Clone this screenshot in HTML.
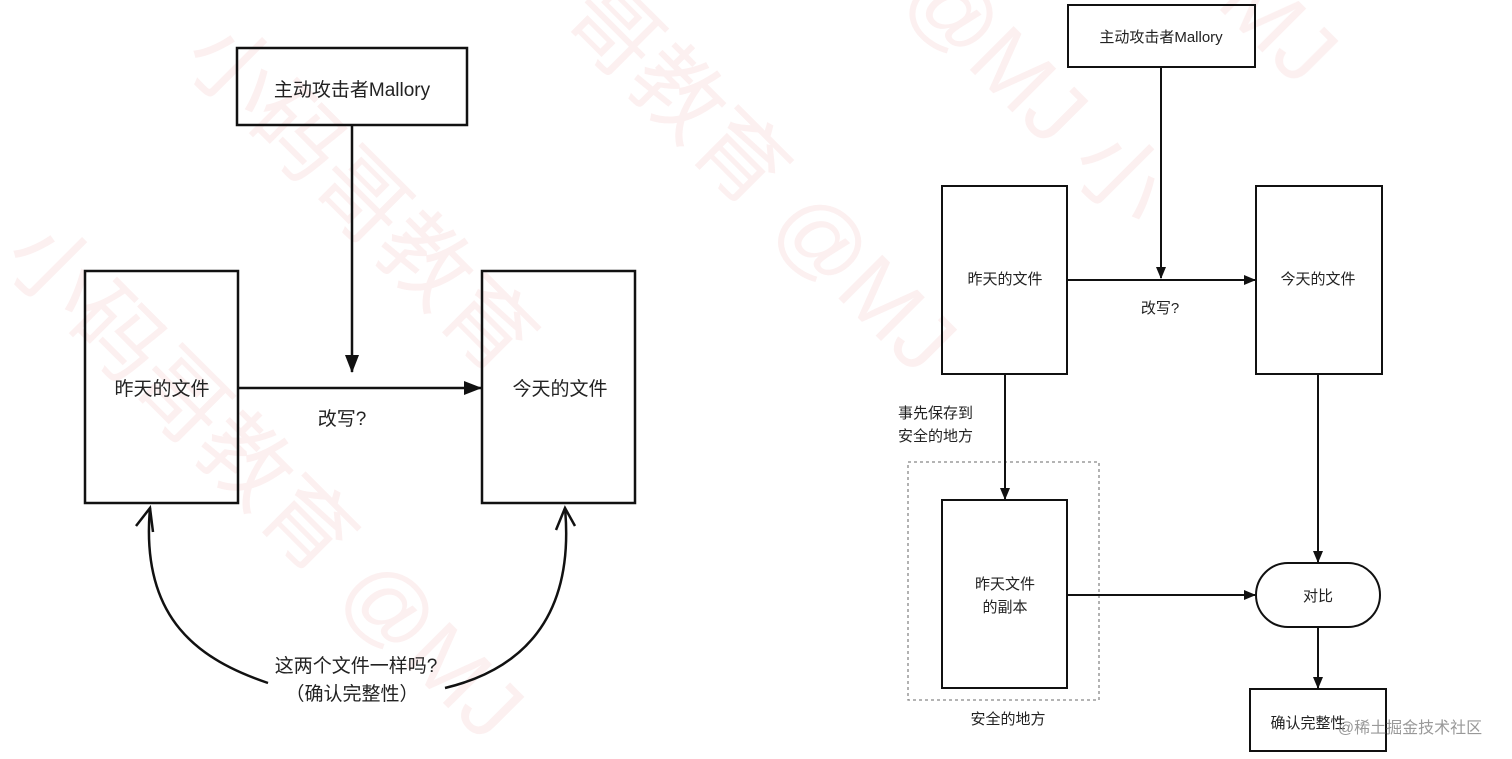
<!DOCTYPE html>
<html><head><meta charset="utf-8"><style>
html,body{margin:0;padding:0;background:#fff;}
svg{display:block;font-family:"Liberation Sans","Noto Sans CJK SC",sans-serif;}
</style></head><body>
<svg width="1512" height="759" viewBox="0 0 1512 759" xmlns="http://www.w3.org/2000/svg">
<defs>
<marker id="a" markerWidth="12" markerHeight="12" refX="11" refY="6" orient="auto" markerUnits="userSpaceOnUse"><path d="M0,1 L12,6 L0,11 Z" fill="#111"/></marker>
<marker id="b" markerWidth="18" markerHeight="14" refX="17" refY="7" orient="auto" markerUnits="userSpaceOnUse"><path d="M0,0 L18,7 L0,14 Z" fill="#111"/></marker>
</defs>
<g fill="#f8dede" font-size="90" opacity="0.45">
<text transform="translate(180,60) rotate(45)">小码哥教育</text>
<text transform="translate(0,260) rotate(45)">小码哥教育 @MJ</text>
<text transform="translate(560,20) rotate(45)">哥教育 @MJ</text>
<text transform="translate(900,0) rotate(45)">@MJ 小</text>
<text transform="translate(1150,-60) rotate(45)">@MJ</text>
</g>
<g stroke="#111" stroke-width="2.5" fill="none">
<rect x="237" y="48" width="230" height="77"/>
<rect x="85" y="271" width="153" height="232"/>
<rect x="482" y="271" width="153" height="232"/>
<line x1="352" y1="125" x2="352" y2="372" marker-end="url(#b)"/>
<line x1="238" y1="388" x2="481" y2="388" marker-end="url(#b)"/>
<path d="M150,508 C140,620 200,660 268,683"/>
<path d="M565,508 C575,620 520,670 445,688"/>
<path d="M136,526 L150,508 L153,532"/>
<path d="M556,530 L565,508 L575,526"/>
</g>
<g stroke="#111" stroke-width="2" fill="none">
<rect x="1068" y="5" width="187" height="62"/>
<rect x="942" y="186" width="125" height="188"/>
<rect x="1256" y="186" width="126" height="188"/>
<rect x="942" y="500" width="125" height="188"/>
<rect x="1256" y="563" width="124" height="64" rx="32"/>
<rect x="1250" y="689" width="136" height="62"/>
<rect x="908" y="462" width="191" height="238" stroke="#888" stroke-width="1.3" stroke-dasharray="3,3"/>
<line x1="1161" y1="67" x2="1161" y2="278" marker-end="url(#a)"/>
<line x1="1067" y1="280" x2="1255" y2="280" marker-end="url(#a)"/>
<line x1="1005" y1="374" x2="1005" y2="499" marker-end="url(#a)"/>
<line x1="1067" y1="595" x2="1255" y2="595" marker-end="url(#a)"/>
<line x1="1318" y1="374" x2="1318" y2="562" marker-end="url(#a)"/>
<line x1="1318" y1="627" x2="1318" y2="688" marker-end="url(#a)"/>
</g>
<g fill="#222" font-size="19" text-anchor="middle">
<text x="352" y="96">主动攻击者Mallory</text>
<text x="162" y="395">昨天的文件</text>
<text x="560" y="395">今天的文件</text>
<text x="342" y="425">改写?</text>
<text x="356" y="672">这两个文件一样吗?</text>
<text x="352" y="700">（确认完整性）</text>
</g>
<g fill="#222" font-size="15" text-anchor="middle">
<text x="1161" y="42">主动攻击者Mallory</text>
<text x="1005" y="284">昨天的文件</text>
<text x="1318" y="284">今天的文件</text>
<text x="1160" y="313">改写?</text>
<text x="898" y="418" text-anchor="start">事先保存到</text>
<text x="898" y="441" text-anchor="start">安全的地方</text>
<text x="1005" y="589">昨天文件</text>
<text x="1005" y="612">的副本</text>
<text x="1008" y="724">安全的地方</text>
<text x="1318" y="601">对比</text>
<text x="1308" y="728">确认完整性</text>
<text x="1410" y="733" fill="#999" font-size="16">@稀土掘金技术社区</text>
</g>
</svg>
</body></html>
